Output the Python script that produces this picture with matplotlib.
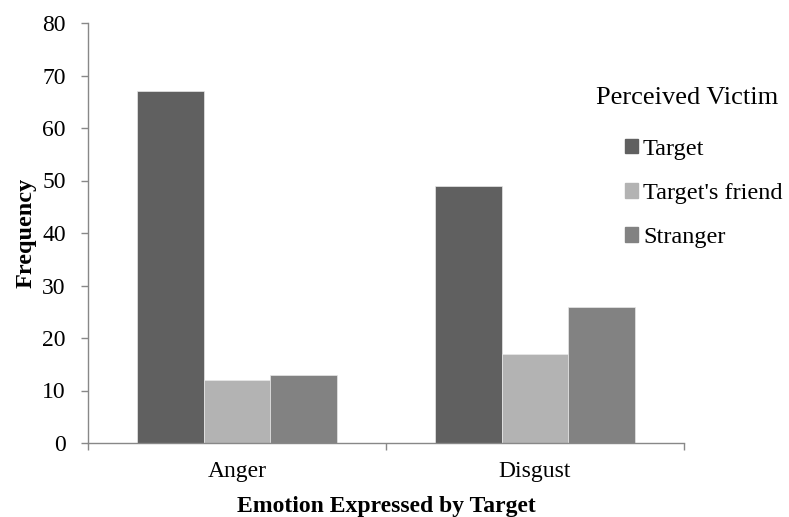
import matplotlib.pyplot as plt
import matplotlib.patches as mpatches
import numpy as np

emotions = ["Anger", "Disgust"]
victims = ["Target", "Target's friend", "Stranger"]
target = [67, 49]
friend = [12, 17]
stranger = [13, 26]
colors = ["#606060", "#b3b3b3", "#828282"]

plt.rcParams['font.family'] = ['Liberation Serif', 'DejaVu Serif']

fig = plt.figure(figsize=(7.89, 5.17), dpi=100)
ax = fig.add_axes([88/789, 1-443/517, (684-88)/789, (443-23)/517])

x = np.arange(len(emotions))
w = 0.223
for i, (vals, c) in enumerate(zip([target, friend, stranger], colors)):
    ax.bar(x + (i-1)*w, vals, w, color=c, edgecolor='#e8e8e8', linewidth=0.5)

ax.set_xlim(-0.5, 1.5)
ax.set_ylim(0, 80)
ax.set_yticks(range(0, 81, 10))
ax.set_xticks(x)
ax.set_xticklabels(emotions)
ax.set_xticks([-0.5, 0.5, 1.5], minor=True)
ax.tick_params(axis='x', which='major', length=0, pad=13, labelsize=17)
ax.tick_params(axis='x', which='minor', length=5, color='#888888', width=1)
ax.tick_params(axis='y', length=5, color='#888888', width=1, labelsize=17, pad=11)

for s in ['top', 'right']:
    ax.spines[s].set_visible(False)
for s in ['left', 'bottom']:
    ax.spines[s].set_color('#888888')
    ax.spines[s].set_linewidth(1)

ax.set_ylabel("Frequency", fontsize=17.5, fontweight='bold', labelpad=4)
ax.set_xlabel("Emotion Expressed by Target", fontsize=17, fontweight='bold', labelpad=10)

# legend with a separate title line
fig.text(596/789, 1-98/517, "Perceived Victim", fontsize=19, va='center', ha='left')
handles = [mpatches.Patch(color=c, label=v) for c, v in zip(colors, victims)]
fig.legend(handles=handles, loc='upper left', bbox_to_anchor=(615/789, 1-129/517),
           frameon=False, fontsize=17.5, handlelength=0.55, handleheight=0.55,
           handletextpad=0.2, labelspacing=0.95, borderaxespad=0)

fig.savefig("out.png", dpi=100)
